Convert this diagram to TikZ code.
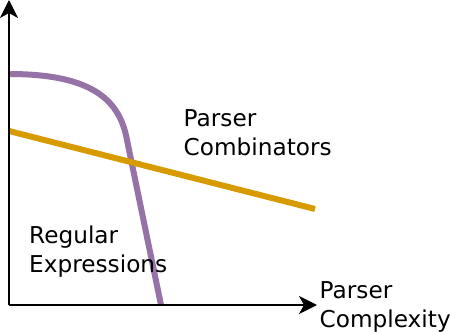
\documentclass[tikz,border=0pt]{standalone}
\usepackage{fontspec}
\setmainfont{DejaVu Sans}
\usetikzlibrary{arrows.meta}
\definecolor{curvepurple}{HTML}{9673A6}
\definecolor{lineorange}{HTML}{D79B00}
\tikzset{
  pc axis/.style={black,line width=1.6pt,-{Stealth[length=18pt,width=18pt,inset=5pt]}},
  pc curve/.style={line width=6pt},
  pc label/.style={anchor=base west,inner sep=0pt,align=left,
    font=\fontsize{23.2pt}{29pt}\selectfont}
}

\begin{document}
\begin{tikzpicture}[x=1pt,y=-1pt]
  \useasboundingbox (0,0) rectangle (451,332);
  \coordinate (o) at (9,305);
  \coordinate (ytip) at (9,0);
  \coordinate (xtip) at (317,305);
  \coordinate (rstart) at (9,74);
  \coordinate (rbend) at (127,140);
  \coordinate (rend) at (161,305);
  \coordinate (cstart) at (9,131);
  \coordinate (cend) at (315,209);
  % curves
  \draw[pc curve,curvepurple] (rstart) .. controls (95,74) and (120,102) .. (rbend) -- (rend);
  \draw[pc curve,lineorange] (cstart) -- (cend);
  % axes
  \draw[pc axis] (o) -- (ytip);
  \draw[pc axis] (o) -- (xtip);
  % labels (base = last line)
  \node[pc label] (comb) at (183.5,155) {Parser\\Combinators};
  \node[pc label] (regex) at (29,272) {Regular\\Expressions};
  \node[pc label] (cplx) at (319.5,327) {Parser\\Complexity};
\end{tikzpicture}
\end{document}
